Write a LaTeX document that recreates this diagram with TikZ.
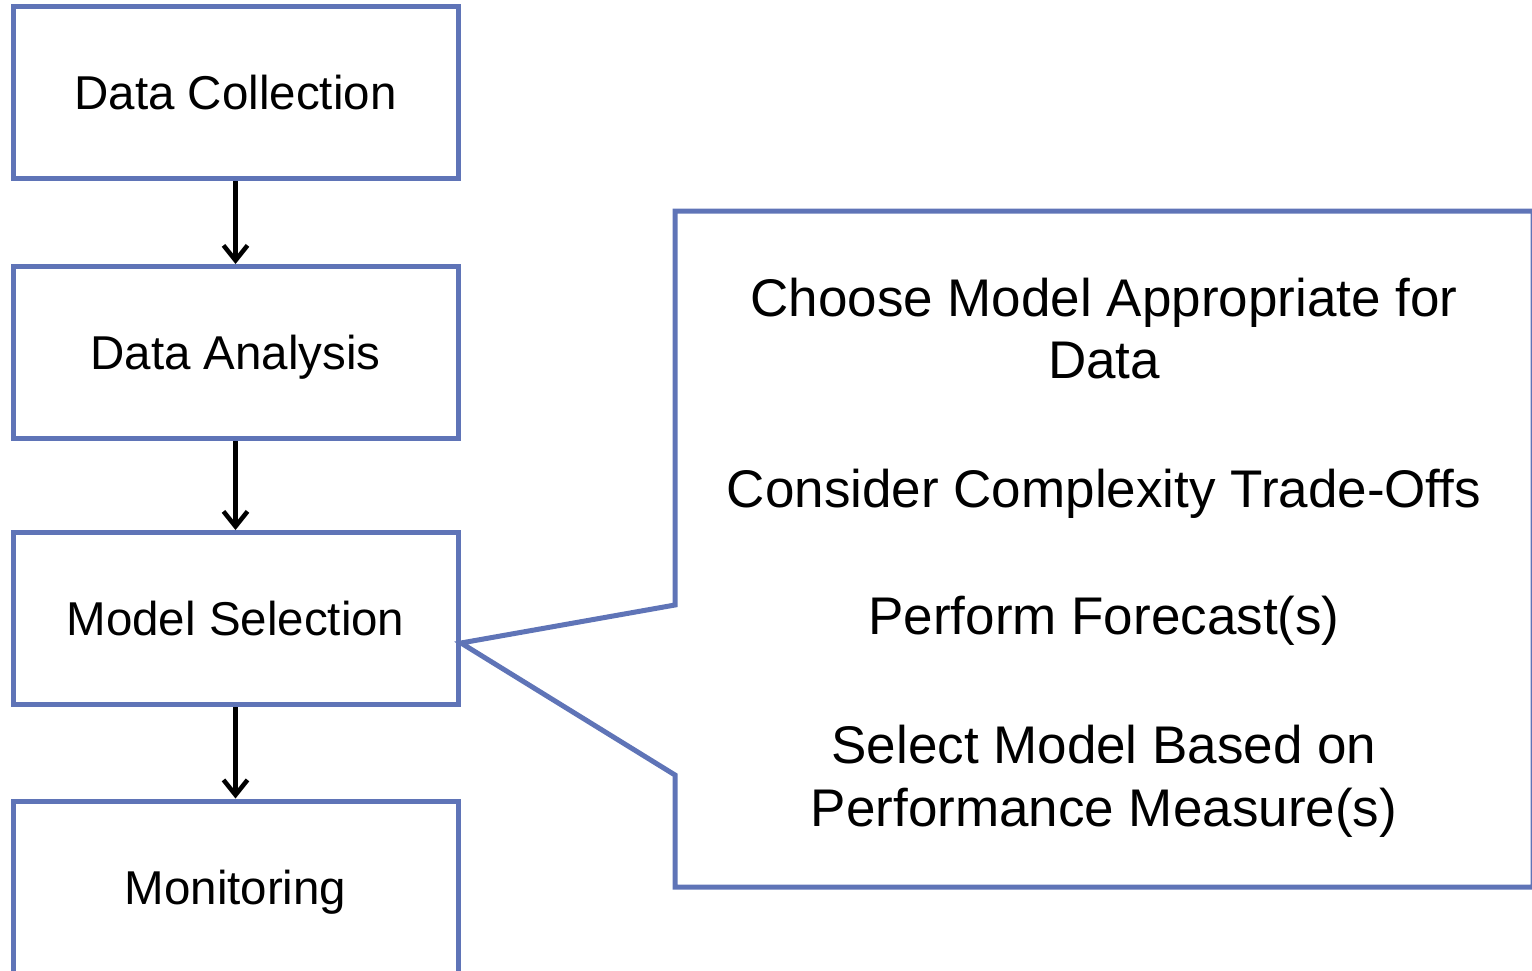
\documentclass[tikz,border=0pt]{standalone}
\usepackage{fontspec}
\setmainfont{Liberation Sans}
\usetikzlibrary{arrows.meta}
\definecolor{frameblue}{RGB}{95,116,183}
\tikzset{
  stagebox/.style={draw=frameblue, line width=5pt, minimum width=445pt, minimum height=172pt,
    inner sep=0pt, text height=34pt, text depth=0pt, font=\fontsize{47.5}{57}\selectfont},
  flowarrow/.style={draw=black, line width=4.5pt, -{Straight Barb[length=15pt,width=24pt]}},
  calloutline/.style={draw=frameblue, line width=5pt, line join=miter},
  callouttext/.style={anchor=base, inner sep=0pt, font=\fontsize{53}{64}\selectfont}
}
\begin{document}
\begin{tikzpicture}[x=1pt, y=-1pt]
  \useasboundingbox (0,0) rectangle (1532,971);
  \clip (0,0) rectangle (1532,971);

  % process stages
  \node[stagebox] (collect) at (235.5,93)    {Data Collection};
  \node[stagebox] (analyse) at (235.5,352.5) {Data Analysis};
  \node[stagebox] (select)  at (235.5,618.5) {Model Selection};
  \node[stagebox] (monitor) at (235.5,887)   {Monitoring};

  \draw[flowarrow] (collect.south) -- (analyse.north);
  \draw[flowarrow] (analyse.south) -- (select.north);
  \draw[flowarrow] (select.south) -- (monitor.north);

  % callout attached to the model selection stage
  \coordinate (tip) at (461,643);
  \draw[calloutline] (675,605) -- (675,211) -- (1533,211) -- (1533,887)
    -- (675,887) -- (675,775) -- (tip) -- cycle;

  \node[callouttext] (c1a) at (1104,316) {Choose Model Appropriate for};
  \node[callouttext] (c1b) at (1104,378) {Data};
  \node[callouttext] (c2)  at (1104,507) {Consider Complexity Trade-Offs};
  \node[callouttext] (c3)  at (1104,634) {Perform Forecast(s)};
  \node[callouttext] (c4a) at (1104,763) {Select Model Based on};
  \node[callouttext] (c4b) at (1104,826) {Performance Measure(s)};
\end{tikzpicture}
\end{document}
